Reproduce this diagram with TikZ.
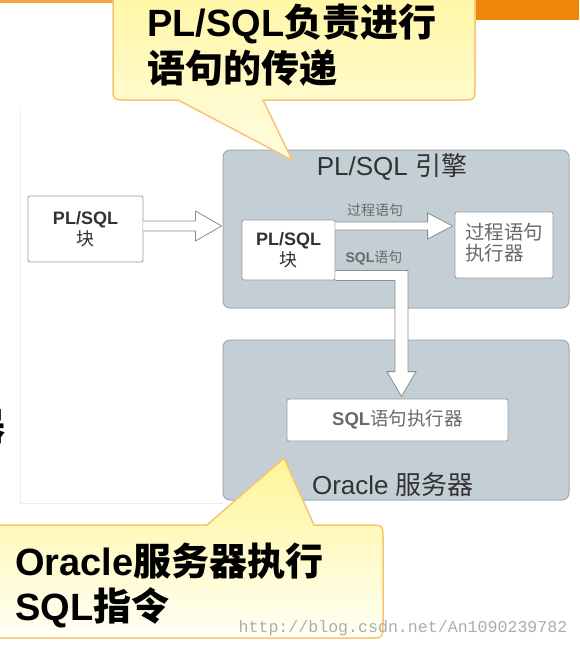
\documentclass[tikz,border=0pt]{standalone}
\usepackage{fontspec}
\setmainfont{Liberation Sans}
\newfontfamily\cjk{Noto Sans CJK SC}
\newfontfamily\wmfont{Liberation Mono}
\usetikzlibrary{calc}
\definecolor{panelfill}{RGB}{196,207,213}
\definecolor{panelborder}{RGB}{160,172,180}
\definecolor{boxborder}{RGB}{150,155,160}
\definecolor{arrowgray}{RGB}{140,140,140}
\definecolor{txtdark}{RGB}{50,50,50}
\definecolor{txtsoft}{RGB}{105,105,105}
\definecolor{callborder}{RGB}{248,196,112}
\definecolor{calltop}{RGB}{255,246,160}
\definecolor{callbot}{RGB}{255,252,225}
\definecolor{calltopb}{RGB}{255,245,150}
\definecolor{callbotb}{RGB}{255,255,246}
\definecolor{orangebar}{RGB}{240,135,10}
\definecolor{framegray}{RGB}{236,236,236}
\tikzset{
  panel/.style={draw=panelborder, fill=panelfill, line width=1pt, rounded corners=7pt, inner sep=0pt},
  wbox/.style={draw=boxborder, fill=white, line width=0.8pt, rounded corners=2pt, inner sep=0pt, align=center},
  hollow/.style={draw=arrowgray, fill=white, line width=0.8pt, line join=miter},
  paneltitle/.style={font=\fontsize{26}{30}\selectfont, text=txtdark, inner sep=0pt},
  smalllbl/.style={font=\fontsize{14}{16}\selectfont, text=txtsoft, inner sep=0pt},
  callfont/.style={font=\fontsize{38}{46}\selectfont\bfseries, text=black, inner sep=0pt},
  callout/.style={draw=callborder, line width=1.5pt, line join=round},
  wmark/.style={font=\wmfont\fontsize{16.6}{18}\selectfont, text=black!32, inner sep=0pt}
}
\begin{document}
\begin{tikzpicture}[x=1pt,y=-1pt]
\useasboundingbox (0,0) rectangle (579,648);
\fill[white] (0,0) rectangle (579,648);
% slide remnants
\fill[orangebar] (475,0) rectangle (579,20);
\fill[orangebar!75] (0,0) rectangle (475,3);
\draw[framegray, line width=0.8pt] (20,110) -- (20,503) -- (223,503);
% panels
\node[panel, minimum width=346pt, minimum height=158pt] (engine) at (396,229) {};
\node[panel, minimum width=346pt, minimum height=160pt] (oracle) at (396,420) {};
\node[paneltitle] (enginetitle) at (392,167) {PL/SQL {\cjk 引擎}};
\node[paneltitle] (oracletitle) at (393,485) {Oracle {\cjk 服务器}};
% boxes
\node[wbox, minimum width=115pt, minimum height=66pt, font=\fontsize{18}{21}\selectfont, text=txtdark] (lb) at (85.5,229) {\textbf{PL/SQL}\\{\cjk 块}};
\node[wbox, minimum width=93pt, minimum height=60pt, font=\fontsize{18}{21}\selectfont, text=txtdark] (ib) at (288.5,250) {\textbf{PL/SQL}\\{\cjk 块}};
\node[wbox, minimum width=98pt, minimum height=66pt, font=\fontsize{19.5}{22}\selectfont, text=txtsoft] (pe) at (504,245) {\begin{tabular}{@{}l@{}}{\cjk 过程语句}\\[-2pt]{\cjk 执行器}\end{tabular}};
\node[wbox, minimum width=221pt, minimum height=42pt, font=\fontsize{18.5}{21}\selectfont, text=txtsoft] (se) at (397.5,420) {\textbf{SQL}{\cjk 语句执行器}};
% arrow: outer block -> engine
\coordinate (a0) at ($(lb.east)+(0,-3)$);
\coordinate (a0t) at (engine.west |- a0);
\draw[hollow] ($(a0)+(0,-5)$) -- ($(a0t)+(-27,-5)$) -- ($(a0t)+(-27,-15)$) -- ($(a0t)+(-1,0)$) -- ($(a0t)+(-27,15)$) -- ($(a0t)+(-27,5)$) -- ($(a0)+(0,5)$);
% arrow: inner block -> procedure executor
\coordinate (a1) at ($(ib.east)+(0,-24)$);
\coordinate (a1t) at (pe.west |- a1);
\draw[hollow] ($(a1)+(0,-4)$) -- ($(a1t)+(-27,-4)$) -- ($(a1t)+(-27,-13)$) -- ($(a1t)+(-2,0)$) -- ($(a1t)+(-27,13)$) -- ($(a1t)+(-27,4)$) -- ($(a1)+(0,4)$);
% arrow: inner block -> SQL executor
\coordinate (s0) at ($(ib.south east)+(0,-10)$);
\coordinate (st) at ($(se.north)+(4,-2)$);
\draw[hollow] (s0) -- ($(s0 -| st)+(6.5,0)$) -- ($(st)+(6.5,-25)$) -- ($(st)+(14.5,-25)$) -- (st) -- ($(st)+(-14.5,-25)$) -- ($(st)+(-6.5,-25)$) -- ($(ib.south east -| st)+(-6.5,0)$) -- (ib.south east);
% arrow labels
\node[smalllbl] (l1) at (375,210) {{\cjk 过程语句}};
\node[smalllbl] (l2) at (374,258) {\textbf{SQL}{\cjk 语句}};
% top callout
\draw[callout, top color=calltop, bottom color=callbot] (113,-20) -- (113,86) .. controls (113,100) .. (127,100) -- (178,100) -- (292,160) -- (263,100) -- (461,100) .. controls (475,100) .. (475,86) -- (475,-20) -- cycle;
\node[callfont, anchor=base west] (c1a) at (147,36) {PL/SQL{\cjk 负责进行}};
\node[callfont, anchor=base west] (c1b) at (147,82) {{\cjk 语句的传递}};
% bottom callout
\draw[callout, top color=calltopb, bottom color=callbotb] (-20,525) -- (207,525) -- (284,458) -- (314,525) -- (369,525) .. controls (383,525) .. (383,539) -- (383,624) .. controls (383,638) .. (369,638) -- (-20,638) -- cycle;
\node[callfont, anchor=base west] (c2a) at (15,575) {Oracle{\cjk 服务器执行}};
\node[callfont, anchor=base west] (c2b) at (15,620) {SQL{\cjk 指令}};
% cut-off glyph at left edge (as in the reference)
\node[callfont, anchor=base east] (cut) at (6,440) {{\cjk 器}};
% watermark
\node[wmark] (wm) at (403,628) {http://blog.csdn.net/An1090239782};
\end{tikzpicture}
\end{document}
